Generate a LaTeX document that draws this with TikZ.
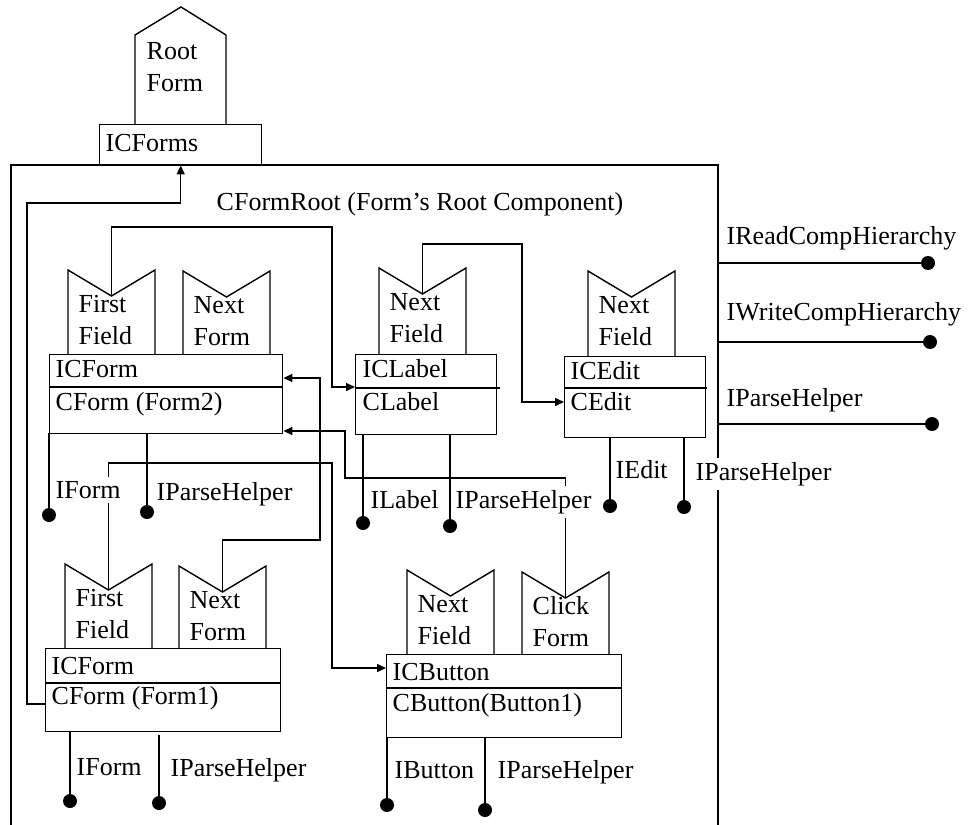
\documentclass[tikz,border=0pt]{standalone}
\usepackage{fontspec}
\setmainfont{Liberation Serif}
\usetikzlibrary{arrows.meta}

\begin{document}
\begin{tikzpicture}[x=1pt,y=-1pt,line width=1.4pt,>={Triangle[length=9pt,width=8pt]},
  every node/.style={font=\fontsize{26}{32}\selectfont},
  txt/.style={inner sep=0pt,anchor=base west},
  lbl/.style={txt,fill=white,inner ysep=4pt},
  box/.style={draw,anchor=north west,inner sep=0pt},
  ball/.style={circle,fill,inner sep=0pt,minimum size=14pt}]
\useasboundingbox (0,0) rectangle (971,824);

% root form on top
\draw (135,124) -- (135,35) -- (181,7) -- (226,35) -- (226,124);
\node[txt] (rootA) at (146,60) {Root};
\node[txt] (rootB) at (146,92) {Form};
\node[box,minimum width=162pt,minimum height=40pt] (icforms) at (99,124) {};
\node[txt] (icformsT) at (105,151) {ICForms};

% root component frame
\draw (11,826) -- (11,165) -- (718,165) -- (718,826);
\node[txt] (rootT) at (216,210.5) {CFormRoot (Form's Root Component)};

% component boxes
\node[box,minimum width=233pt,minimum height=79pt] (form2) at (49,354) {};
\node[box,minimum width=141pt,minimum height=80pt] (label) at (355,354) {};
\node[box,minimum width=141pt,minimum height=81pt] (edit) at (564,356) {};
\node[box,minimum width=235pt,minimum height=83pt] (form1) at (45,648) {};
\node[box,minimum width=235pt,minimum height=83pt] (button) at (386,654) {};
\draw (form2.west |- 0,387) -- (form2.east |- 0,387);
\draw (label.west |- 0,388) -- +(145,0);
\draw (edit.west |- 0,388) -- +(143,0);
\draw (form1.west |- 0,683) -- (form1.east |- 0,683);
\draw (button.west |- 0,688) -- (button.east |- 0,688);
\node[txt] (form2A) at (55,377.5) {ICForm};
\node[txt] (form2B) at (55,410.5) {CForm (Form2)};
\node[txt] (labelA) at (362,377.5) {ICLabel};
\node[txt] (labelB) at (362,410.5) {CLabel};
\node[txt] (editA) at (570,379.5) {ICEdit};
\node[txt] (editB) at (570,410.5) {CEdit};
\node[txt] (form1A) at (51,674.5) {ICForm};
\node[txt] (form1B) at (51,704.5) {CForm (Form1)};
\node[txt] (buttonA) at (392,680.5) {ICButton};
\node[txt] (buttonB) at (392,711.5) {CButton(Button1)};

% properties
\foreach \nm/\x/\t/\b/\la/\lb in {f2first/68/270/354/First/Field,f2next/183/271/354/Next/Form,
  lnext/379/268/354/Next/Field,enext/588/271/356/Next/Field,f1first/65/564/648/First/Field,
  f1next/179/566/648/Next/Form,bnext/407/570/654/Next/Field,bclick/522/572/654/Click/Form}{
  \draw (\x,\b) -- (\x,\t) -- (\x+43.5,\t+26) -- (\x+87,\t) -- (\x+87,\b);
  \coordinate (\nm) at (\x+43.5,\t+26);
  \node[txt] (\nm-a) at (\x+10,\t+42) {\la};
  \node[txt] (\nm-b) at (\x+10,\t+74) {\lb};
}

% links
\draw[->] (form1.west |- 0,704) -- (27,704) -- (27,203) -| (icforms.south);
\draw[->] (f2first) |- (332,227) |- (label.west |- 0,387);
\draw[->] (f1next) |- (320,540) |- (form2.east |- 0,378);
\draw[->] (bclick) |- (345,478) |- (form2.east |- 0,431);
\draw[->] (f1first) |- (332,463) |- (button.west |- 0,668);
\draw[->] (lnext) |- (522,244) |- (edit.west |- 0,402);

% interfaces
\foreach \nm/\x/\t/\e/\lx/\ly/\tx in {f2i/49/433/515/55/498.5/IForm,f2p/147/433/512/156/500.5/IParseHelper,
  li/363/434/523/370/508.5/ILabel,lp/450/434/526/455/508.5/IParseHelper,
  ei/610/437/506/615/478.5/IEdit,ep/684/437/507/695/480.5/IParseHelper,
  f1i/70/731/801/76/775.5/IForm,f1p/159/735/803/170/776.5/IParseHelper,
  bi/387/737/805/394/778.5/IButton,bp/485/737/810/497/778.5/IParseHelper}{
  \draw (\x,\t) -- (\x,\e) node[ball] (\nm) {};
  \node[lbl] (\nm-t) at (\lx,\ly) {\tx};
}
\foreach \nm/\y/\e/\ly/\tx in {rd/263/928/244.5/IReadCompHierarchy,wr/342/930/320.5/IWriteCompHierarchy,
  ph/424/932/406.5/IParseHelper}{
  \draw (718,\y) -- (\e,\y) node[ball] (\nm) {};
  \node[txt] (\nm-t) at (726,\ly) {\tx};
}
\end{tikzpicture}
\end{document}
